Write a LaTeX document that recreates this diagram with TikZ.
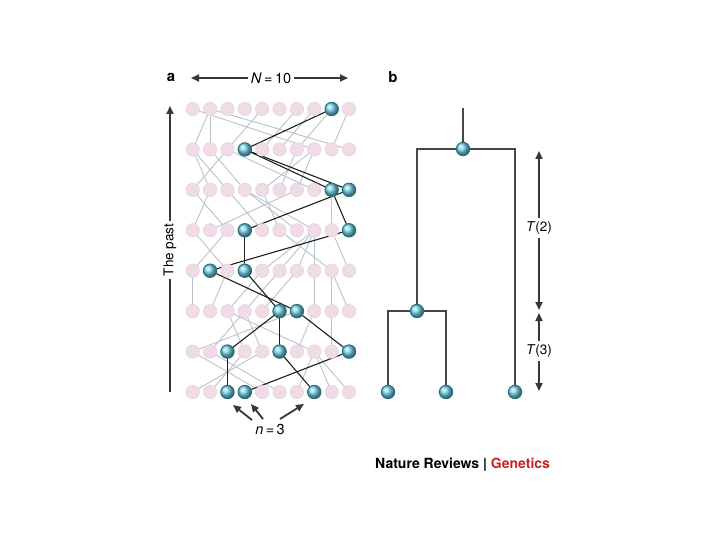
\documentclass[tikz,border=0pt]{standalone}
\usepackage{fontspec}
\setmainfont{TeX Gyre Heros}
\usetikzlibrary{arrows.meta,backgrounds}
\definecolor{pinkdot}{RGB}{240,220,230}
\definecolor{pinkedge}{RGB}{228,204,216}
\definecolor{tealball}{RGB}{120,215,232}
\definecolor{tealedge}{RGB}{30,110,130}
\definecolor{greyln}{RGB}{185,195,205}
\definecolor{darkln}{RGB}{30,30,30}
\definecolor{treeln}{RGB}{70,70,70}
\definecolor{arrowc}{RGB}{55,55,55}
\definecolor{nrgred}{RGB}{195,35,35}
\tikzset{
  pdot/.style={circle,fill=pinkdot,draw=pinkedge,line width=0.4pt,minimum size=13.5pt,inner sep=0pt},
  tdot/.style={circle,shading=ball,ball color=tealball,draw=tealedge,line width=0.8pt,minimum size=13.5pt,inner sep=0pt},
  gline/.style={greyln,line width=0.9pt},
  dline/.style={darkln,line width=1.1pt},
  tline/.style={treeln,line width=1.3pt},
  bigarrow/.style={arrowc,line width=1.8pt,-{Triangle[length=8pt,width=7pt]}},
  plainline/.style={arrowc,line width=1.8pt},
  lab/.style={font=\fontsize{13.5}{15}\selectfont,inner sep=3pt},
}
\begin{document}
\begin{tikzpicture}[x=1pt,y=-1pt]
\useasboundingbox (0,0) rectangle (720,540);
% grid nodes
\foreach \r in {1,...,8}{
  \foreach \c in {1,...,10}{
    \node[pdot] (n\r-\c) at ({192.7+17.37*(\c-1)},{109+40.43*(\r-1)}) {};
  }
}
% teal lineage nodes
\foreach \r/\c in {1/9,2/4,3/9,3/10,4/4,4/10,5/2,5/4,6/6,6/7,7/3,7/6,7/10,8/3,8/4,8/8}{
  \node[tdot] (t\r-\c) at (n\r-\c) {};
}
% panel b tree nodes
\node[tdot] (leaf1) at (388,392) {};
\node[tdot] (leaf2) at (446,392) {};
\node[tdot] (leaf3) at (515,392) {};
\node[tdot] (inner) at (417,311) {};
\node[tdot] (root) at (463,149) {};
\coordinate (rtop) at (463,108);
\begin{scope}[on background layer]
  \fill[white] (0,0) rectangle (720,540);
  % grey parent links (child col / parent col)
  \foreach \c/\p in {1/2,2/2,3/5,5/7,6/8,7/9,8/1,9/10,10/2}{\draw[gline] (n2-\c.center) -- (n1-\p.center);}
  \foreach \c/\p in {1/3,2/1,3/1,4/2,5/8,6/7,7/8,8/3}{\draw[gline] (n3-\c.center) -- (n2-\p.center);}
  \foreach \c/\p in {1/2,2/7,3/1,5/3,6/5,7/4,8/4,9/9}{\draw[gline] (n4-\c.center) -- (n3-\p.center);}
  \foreach \c/\p in {1/3,3/1,5/8,6/8,7/8,8/8,9/6,10/9}{\draw[gline] (n5-\c.center) -- (n4-\p.center);}
  \foreach \c/\p in {1/1,2/3,3/5,4/6,5/7,8/8,9/9,10/9}{\draw[gline] (n6-\c.center) -- (n5-\p.center);}
  \foreach \c/\p in {1/7,2/4,4/3,5/4,7/8,8/3,9/9}{\draw[gline] (n7-\c.center) -- (n6-\p.center);}
  \foreach \c/\p in {1/5,2/4,5/1,6/2,7/8,9/8,10/8}{\draw[gline] (n8-\c.center) -- (n7-\p.center);}
  % dark genealogy
  \draw[dline] (n2-4.center) -- (n1-9.center);
  \draw[dline] (n3-9.center) -- (n2-4.center);
  \draw[dline] (n3-10.center) -- (n2-4.center);
  \draw[dline] (n4-4.center) -- (n3-10.center);
  \draw[dline] (n4-10.center) -- (n3-9.center);
  \draw[dline] (n5-2.center) -- (n4-10.center);
  \draw[dline] (n5-4.center) -- (n4-4.center);
  \draw[dline] (n6-6.center) -- (n5-4.center);
  \draw[dline] (n6-7.center) -- (n5-2.center);
  \draw[dline] (n7-3.center) -- (n6-6.center);
  \draw[dline] (n7-6.center) -- (n6-6.center);
  \draw[dline] (n7-10.center) -- (n6-7.center);
  \draw[dline] (n8-3.center) -- (n7-3.center);
  \draw[dline] (n8-4.center) -- (n7-10.center);
  \draw[dline] (n8-8.center) -- (n7-6.center);
  % tree
  \draw[tline] (root.center) -- (rtop);
  \draw[tline] (inner.center) -- (inner |- root) -- (leaf3 |- root) -- (leaf3.center);
  \draw[tline] (leaf1.center) -- (leaf1 |- inner) -- (leaf2 |- inner) -- (leaf2.center);
\end{scope}
% panel labels
\node[font=\fontsize{15}{17}\selectfont\bfseries] (la) at (171,77) {a};
\node[font=\fontsize{15}{17}\selectfont\bfseries] (lb) at (393,77) {b};
% N = 10 arrow
\node[lab,font=\fontsize{14.5}{16}\selectfont] (Nlab) at (271,78) {\textit{N}\,=\,10};
\coordinate (Nl) at (191,78);
\coordinate (Nr) at (348,78);
\draw[bigarrow] (Nlab.west) -- (Nl);
\draw[bigarrow] (Nlab.east) -- (Nr);
% The past arrow
\node[lab,rotate=90] (past) at (170,250) {The past};
\coordinate (pastbot) at (170,392);
\coordinate (pasttop) at (170,106);
\draw[plainline] (pastbot) -- (past.west);
\draw[bigarrow] (past.east) -- (pasttop);
% n = 3 arrows
\node[lab,font=\fontsize{14.5}{16}\selectfont] (nlab) at (270,429) {\textit{n}\,=\,3};
\coordinate (a1s) at (252,420);
\coordinate (a1e) at (233,405);
\coordinate (a2s) at (263,419);
\coordinate (a2e) at (251,404);
\coordinate (a3s) at (280,419);
\coordinate (a3e) at (304,404);
\draw[bigarrow] (a1s) -- (a1e);
\draw[bigarrow] (a2s) -- (a2e);
\draw[bigarrow] (a3s) -- (a3e);
% T(2), T(3)
\node[lab] (T2) at (539,228) {\textit{T}(2)};
\coordinate (T2t) at (539,151);
\coordinate (T2b) at (539,310);
\draw[bigarrow] (T2.north) -- (T2t);
\draw[bigarrow] (T2.south) -- (T2b);
\node[lab] (T3) at (539,351) {\textit{T}(3)};
\coordinate (T3t) at (539,313);
\coordinate (T3b) at (539,391);
\draw[bigarrow] (T3.north) -- (T3t);
\draw[bigarrow] (T3.south) -- (T3b);
% credit
\node[anchor=west,inner sep=0pt,font=\fontsize{14}{16}\selectfont\bfseries] (credit) at (375,465) {Nature Reviews | \textcolor{nrgred}{Genetics}};
\end{tikzpicture}
\end{document}
